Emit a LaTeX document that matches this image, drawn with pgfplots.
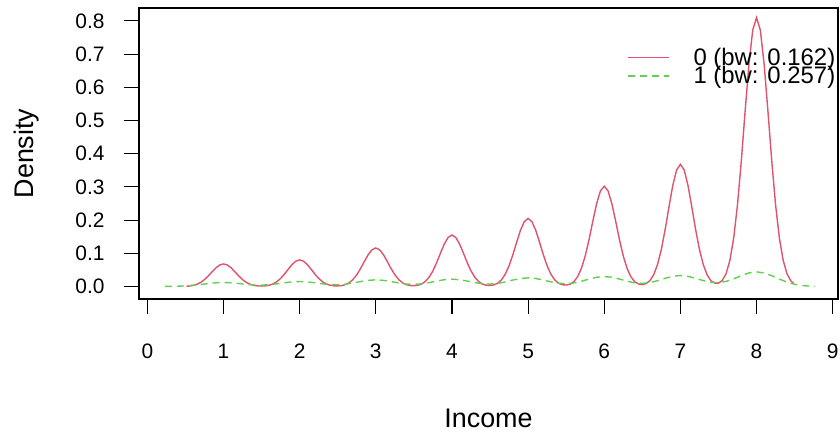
\documentclass[border=0pt]{standalone}
\usepackage{pgfplots}
\pgfplotsset{compat=1.18}
\usepackage{fontspec}
\setmainfont{Liberation Sans}
\definecolor{rred}{HTML}{DF536B}
\definecolor{rgreen}{HTML}{61D04F}
\begin{document}
\begin{tikzpicture}
\path[use as bounding box] (-139bp,-134bp) rectangle (701bp,299bp);
\begin{axis}[
  at={(0,0)}, anchor=south west,
  scale only axis, width=699bp, height=291bp,
  xmin=-0.11, xmax=9.07, ymin=-0.0377, ymax=0.839,
  axis line style={black, line width=1.1bp},
  tick style={black, line width=1.1bp},
  tick align=outside, tick pos=left, major tick length=15bp,
  xtick={0,1,...,9},
  ytick={0,0.1,...,0.8},
  /pgf/number format/assume math mode=true,
  yticklabel style={/pgf/number format/fixed, /pgf/number format/fixed zerofill, /pgf/number format/precision=1},
  ticklabel style={font=\fontsize{21}{21}\selectfont, color=black},
  xticklabel style={anchor=base, yshift=-44bp},
  yticklabel style={anchor=east, xshift=-16bp},
  xlabel={Income}, ylabel={Density},
  label style={font=\fontsize{27}{27}\selectfont},
  xlabel style={at={(axis description cs:0.5,0)}, anchor=base, yshift=-128bp},
  ylabel style={at={(axis description cs:-0.1516,0.5)}, anchor=base},
  legend style={draw=none, fill=none, at={(rel axis cs:0.698,0.862)}, anchor=north west,
    inner sep=0pt, font=\fontsize{24}{24}\selectfont, row sep=-0.5bp,
    nodes={inner sep=0pt},
    /tikz/every odd column/.append style={column sep=24bp}},
  legend cell align=left,
  legend image code/.code={\draw[#1] (0bp,0bp) -- (41bp,0bp);},
]
\addplot[rred, line width=1.4bp] coordinates {
(0.514,0.0008) (0.55,0.0014) (0.60,0.0032) (0.65,0.0066) (0.70,0.0122) (0.75,0.0207) (0.80,0.0317) (0.85,0.0443) (0.90,0.0562) (0.95,0.0648)
(1.00,0.068) (1.05,0.0648) (1.10,0.0562) (1.15,0.0443) (1.20,0.0317) (1.25,0.0207) (1.30,0.0122) (1.35,0.0066) (1.40,0.0032) (1.45,0.0017)
(1.50,0.0013) (1.55,0.0019) (1.60,0.0038) (1.65,0.0078) (1.70,0.0144) (1.75,0.0243) (1.80,0.0373) (1.85,0.0521) (1.90,0.0661) (1.95,0.0763)
(2.00,0.080) (2.05,0.0763) (2.10,0.0661) (2.15,0.0521) (2.20,0.0373) (2.25,0.0243) (2.30,0.0144) (2.35,0.0078) (2.40,0.0038) (2.45,0.0021)
(2.50,0.0017) (2.55,0.0027) (2.60,0.0055) (2.65,0.0112) (2.70,0.0209) (2.75,0.0353) (2.80,0.0541) (2.85,0.0756) (2.90,0.0959) (2.95,0.1106)
(3.00,0.116) (3.05,0.1106) (3.10,0.0959) (3.15,0.0756) (3.20,0.0541) (3.25,0.0353) (3.30,0.0209) (3.35,0.0112) (3.40,0.0055) (3.45,0.0029)
(3.50,0.0023) (3.55,0.0037) (3.60,0.0073) (3.65,0.0150) (3.70,0.0279) (3.75,0.0471) (3.80,0.0723) (3.85,0.1010) (3.90,0.1281) (3.95,0.1478)
(4.00,0.155) (4.05,0.1478) (4.10,0.1281) (4.15,0.1010) (4.20,0.0723) (4.25,0.0471) (4.30,0.0279) (4.35,0.0150) (4.40,0.0073) (4.45,0.0039)
(4.50,0.0030) (4.55,0.0048) (4.60,0.0097) (4.65,0.0199) (4.70,0.0369) (4.75,0.0623) (4.80,0.0957) (4.85,0.1335) (4.90,0.1695) (4.95,0.1955)
(5.00,0.205) (5.05,0.1955) (5.10,0.1695) (5.15,0.1335) (5.20,0.0957) (5.25,0.0623) (5.30,0.0369) (5.35,0.0199) (5.40,0.0097) (5.45,0.0053)
(5.50,0.0043) (5.55,0.0070) (5.60,0.0143) (5.65,0.0293) (5.70,0.0544) (5.75,0.0918) (5.80,0.1409) (5.85,0.1967) (5.90,0.2496) (5.95,0.2880)
(6.00,0.302) (6.05,0.2880) (6.10,0.2496) (6.15,0.1967) (6.20,0.1409) (6.25,0.0918) (6.30,0.0544) (6.35,0.0293) (6.40,0.0143) (6.45,0.0076)
(6.50,0.0057) (6.55,0.0088) (6.60,0.0174) (6.65,0.0357) (6.70,0.0662) (6.75,0.1119) (6.80,0.1717) (6.85,0.2397) (6.90,0.3042) (6.95,0.3509)
(7.00,0.368) (7.05,0.3509) (7.10,0.3042) (7.15,0.2397) (7.20,0.1717) (7.25,0.1119) (7.30,0.0662) (7.35,0.0357) (7.40,0.0174) (7.45,0.0104)
(7.50,0.0100) (7.55,0.0183) (7.60,0.0384) (7.65,0.0785) (7.70,0.1458) (7.75,0.2462) (7.80,0.3780) (7.85,0.5276) (7.90,0.6695) (7.95,0.7723)
(8.00,0.810) (8.05,0.7723) (8.10,0.6695) (8.15,0.5276) (8.20,0.3780) (8.25,0.2462) (8.30,0.1458) (8.35,0.0785) (8.40,0.0384) (8.45,0.0171)
(8.486,0.009)
};
\addlegendentry{0 (bw: 0.162)}
\addplot[rgreen, line width=1.4bp, dash pattern=on 7bp off 5bp] coordinates {
(0.229,0.0001) (0.3,0.0003) (0.4,0.0008) (0.5,0.0018) (0.6,0.0036) (0.7,0.0061) (0.8,0.0089) (0.9,0.0111)
(1.0,0.012) (1.1,0.0111) (1.2,0.0090) (1.3,0.0064) (1.4,0.0046) (1.5,0.0041) (1.6,0.0053) (1.7,0.0079) (1.8,0.0112) (1.9,0.0139)
(2.0,0.015) (2.1,0.0139) (2.2,0.0112) (2.3,0.0081) (2.4,0.0058) (2.5,0.0053) (2.6,0.0069) (2.7,0.0105) (2.8,0.0149) (2.9,0.0185)
(3.0,0.020) (3.1,0.0185) (3.2,0.0149) (3.3,0.0107) (3.4,0.0074) (3.5,0.0063) (3.6,0.0079) (3.7,0.0116) (3.8,0.0164) (3.9,0.0204)
(4.0,0.022) (4.1,0.0204) (4.2,0.0165) (4.3,0.0118) (4.4,0.0083) (4.5,0.0072) (4.6,0.0092) (4.7,0.0137) (4.8,0.0194) (4.9,0.0241)
(5.0,0.026) (5.1,0.0241) (5.2,0.0195) (5.3,0.0139) (5.4,0.0097) (5.5,0.0084) (5.6,0.0106) (5.7,0.0158) (5.8,0.0224) (5.9,0.0278)
(6.0,0.030) (6.1,0.0278) (6.2,0.0224) (6.3,0.0160) (6.4,0.0111) (6.5,0.0095) (6.6,0.0118) (6.7,0.0174) (6.8,0.0246) (6.9,0.0306)
(7.0,0.033) (7.1,0.0306) (7.2,0.0247) (7.3,0.0178) (7.4,0.0127) (7.5,0.0116) (7.6,0.0153) (7.7,0.0231) (7.8,0.0328) (7.9,0.0408)
(8.0,0.044) (8.1,0.0408) (8.2,0.0325) (8.3,0.0223) (8.4,0.0131) (8.5,0.0066) (8.6,0.0029) (8.7,0.0011) (8.771,0.0005)
};
\addlegendentry{1 (bw: 0.257)}
\end{axis}
\end{tikzpicture}
\end{document}
